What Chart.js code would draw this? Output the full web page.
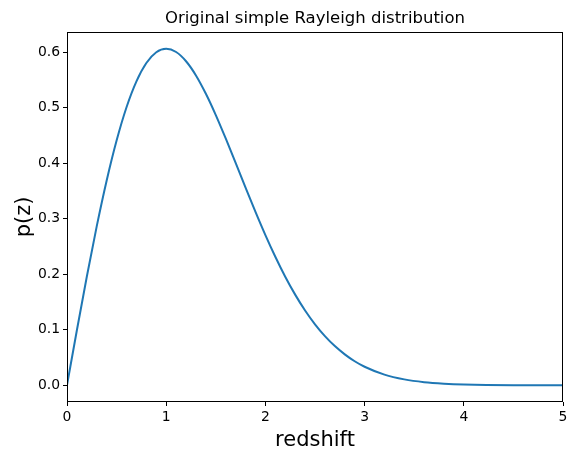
<!DOCTYPE html>
<html>
<head>
<meta charset="utf-8">
<script src="https://cdn.jsdelivr.net/npm/chart.js@4.4.0/dist/chart.umd.min.js"></script>
<style>
html,body{margin:0;padding:0;background:#fff;}
#wrap{width:577px;height:461px;position:relative;}
</style>
</head>
<body>
<div id="wrap"><canvas id="c" width="577" height="461"></canvas></div>
<script>
const redshift = [0,0.1,0.2,0.3,0.4,0.5,0.6,0.7,0.8,0.9,1.0,1.1,1.2,1.3,1.4,1.5,1.6,1.7,1.8,1.9,2.0,2.1,2.2,2.3,2.4,2.5,2.6,2.7,2.8,2.9,3.0,3.2,3.4,3.6,3.8,4.0,4.5,5.0];
const pz = [0,0.0995,0.1960,0.2868,0.3692,0.4412,0.5012,0.5479,0.5809,0.6003,0.6065,0.6007,0.5841,0.5585,0.5254,0.4870,0.4448,0.4007,0.3562,0.3125,0.2707,0.2316,0.1956,0.1633,0.1347,0.1098,0.0885,0.0705,0.0556,0.0432,0.0333,0.0191,0.0105,0.0055,0.0028,0.0013,0.0001,0.0000];
const xTicks = [0,1,2,3,4,5];
const yTicks = [0.0,0.1,0.2,0.3,0.4,0.5,0.6];
const titleText = 'Original simple Rayleigh distribution';
const xLabel = 'redshift';
const yLabel = 'p(z)';

const points = redshift.map((x,i)=>({x:x,y:pz[i]}));
const FONT = "'DejaVu Sans', sans-serif";

const framePlugin = {
  id:'frame',
  afterDraw(chart){
    const {ctx, chartArea:a} = chart;
    ctx.save();
    ctx.strokeStyle = '#000';
    ctx.lineWidth = 1;
    ctx.strokeRect(Math.round(a.left)+0.5, Math.round(a.top)+0.5, Math.round(a.right-a.left)-1, Math.round(a.bottom-a.top)-1);
    ctx.fillStyle = '#000';
    ctx.font = "16.5px " + FONT;
    ctx.textAlign = 'center';
    ctx.textBaseline = 'alphabetic';
    ctx.fillText(titleText, (a.left+a.right)/2, a.top - 9);
    ctx.restore();
  }
};

new Chart(document.getElementById('c'), {
  type:'scatter',
  data:{datasets:[{
    data:points,
    showLine:true,
    borderColor:'#1f77b4',
    backgroundColor:'#1f77b4',
    borderWidth:2,
    pointRadius:0,
    cubicInterpolationMode:'monotone',
    fill:false
  }]},
  options:{
    responsive:false,
    animation:false,
    devicePixelRatio:1,
    layout:{padding:{left:12,right:14,top:32,bottom:8}},
    plugins:{legend:{display:false},tooltip:{enabled:false},title:{display:false}},
    scales:{
      x:{
        type:'linear',min:0,max:5,
        afterBuildTicks(s){ s.ticks = xTicks.map(v=>({value:v})); },
        afterFit(s){ s.height = 51; },
        grid:{drawOnChartArea:false,drawTicks:true,tickLength:4,tickColor:'#000',lineWidth:1},
        border:{display:false},
        ticks:{color:'#000',font:{family:FONT,size:13.9},padding:3,maxRotation:0,callback:v=>String(v)},
        title:{display:true,text:xLabel,color:'#000',font:{family:FONT,size:21},padding:{top:2,bottom:0}}
      },
      y:{
        type:'linear',min:-0.0303,max:0.6368,
        afterBuildTicks(s){ s.ticks = yTicks.map(v=>({value:v})); },
        afterFit(s){ s.width = 55; },
        grid:{drawOnChartArea:false,drawTicks:true,tickLength:4,tickColor:'#000',lineWidth:1},
        border:{display:false},
        ticks:{color:'#000',font:{family:FONT,size:13.9},padding:3,callback:v=>v.toFixed(1)},
        title:{display:true,text:yLabel,color:'#000',font:{family:FONT,size:21},padding:{top:0,bottom:4}}
      }
    }
  },
  plugins:[framePlugin]
});
</script>
</body>
</html>
